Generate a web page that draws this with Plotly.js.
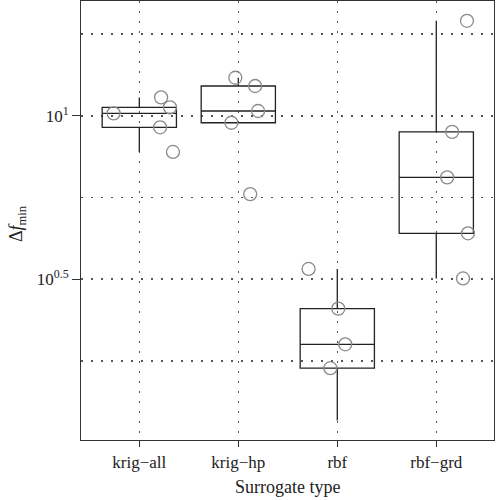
<!DOCTYPE html>
<html>
<head>
<meta charset="utf-8">
<script src="https://cdn.plot.ly/plotly-3.0.1.min.js"></script>
<style>
  html, body { margin: 0; padding: 0; background: #fff; }
  #chart { width: 496px; height: 500px; }
</style>
</head>
<body>
<div id="chart"></div>
<script>
var categories = ['krig\u2212all', 'krig\u2212hp', 'rbf', 'rbf\u2212grd'];

// delta f_min per surrogate type
var krigAll = [10.17, 11.38, 10.61, 9.22, 7.75];
var krigHp = [13.07, 12.33, 10.34, 9.52, 5.76];
var rbf = [3.40, 2.57, 2.00, 1.69, 1.17];
var rbfGrd = [19.52, 8.93, 6.48, 4.37, 3.18];

// horizontal jitter of each circle (null = circle not drawn)
var jitterAll = [-0.26, 0.22, 0.31, 0.21, 0.34];
var jitterHp = [-0.03, 0.17, 0.20, -0.07, 0.12];
var jitterRbf = [-0.29, 0.01, 0.08, -0.07, null];
var jitterGrd = [0.31, 0.16, 0.11, 0.32, 0.27];

var groups = [krigAll, krigHp, rbf, rbfGrd];
var jitters = [jitterAll, jitterHp, jitterRbf, jitterGrd];

// tukey five numbers on log10 values, whiskers at 1.5 IQR (like R boxplot on log axis)
function boxStats(v) {
  var s = v.map(Math.log10).sort(function(a, b) { return a - b; });
  var n = s.length;
  var n4 = Math.floor((n + 3) / 2) / 2;
  var d = [1, n4, (n + 1) / 2, n + 1 - n4, n];
  var f = d.map(function(k) { return 0.5 * (s[Math.floor(k) - 1] + s[Math.ceil(k) - 1]); });
  var iqr = f[3] - f[1];
  var inside = s.filter(function(x) { return x >= f[1] - 1.5 * iqr && x <= f[3] + 1.5 * iqr; });
  return {
    q1: Math.pow(10, f[1]), med: Math.pow(10, f[2]), q3: Math.pow(10, f[3]),
    lo: Math.pow(10, inside[0]), hi: Math.pow(10, inside[inside.length - 1])
  };
}

var st = groups.map(boxStats);

var box = {
  type: 'box',
  x: [0, 1, 2, 3],
  q1: st.map(function(s) { return s.q1; }),
  median: st.map(function(s) { return s.med; }),
  q3: st.map(function(s) { return s.q3; }),
  lowerfence: st.map(function(s) { return s.lo; }),
  upperfence: st.map(function(s) { return s.hi; }),
  width: 0.75,
  whiskerwidth: 0,
  boxpoints: false,
  fillcolor: 'rgba(0,0,0,0)',
  line: {color: '#222', width: 1.3},
  hoverinfo: 'skip',
  showlegend: false
};

var px = [], py = [];
groups.forEach(function(g, i) {
  g.forEach(function(v, j) {
    if (jitters[i][j] === null) return;
    px.push(i + jitters[i][j]);
    py.push(v);
  });
});

var pts = {
  type: 'scatter',
  mode: 'markers',
  x: px,
  y: py,
  yaxis: 'y2',
  marker: {symbol: 'circle-open', size: 13, color: '#8a8a8a', line: {width: 1.3, color: '#8a8a8a'}},
  hoverinfo: 'skip',
  showlegend: false
};

var yr = [0.0083, 1.351];
var gridStyle = {gridcolor: '#555', gridwidth: 1.5, griddash: '1.5px,8.5px'};
var fnt = {family: '"Liberation Serif", "DejaVu Serif", serif', size: 17, color: '#222'};
var titleFnt = {family: fnt.family, size: 18, color: '#222'};
var pow10 = function(l) { return Math.pow(10, l); };

var layout = {
  width: 496,
  height: 500,
  margin: {l: 81, r: 2, t: 1, b: 60},
  paper_bgcolor: '#fff',
  plot_bgcolor: '#fff',
  font: fnt,
  showlegend: false,
  xaxis: Object.assign({
    range: [-0.589, 3.583],
    tickmode: 'array',
    tickvals: [0, 1, 2, 3],
    ticktext: categories,
    ticks: 'outside', ticklen: 6, tickwidth: 1.3, tickcolor: '#333',
    showgrid: true,
    showline: true, linecolor: '#333', linewidth: 1.3, mirror: true,
    zeroline: false,
    tickfont: fnt
  }, gridStyle),
  // grid lines every quarter decade
  yaxis: Object.assign({
    type: 'log',
    range: yr,
    tickmode: 'array',
    tickvals: [0.25, 0.5, 0.75, 1, 1.25].map(pow10),
    showticklabels: false,
    ticks: '',
    showgrid: true,
    showline: true, linecolor: '#333', linewidth: 1.3, mirror: true,
    zeroline: false
  }, gridStyle),
  // labelled ticks
  yaxis2: {
    overlaying: 'y',
    type: 'log',
    range: yr,
    tickmode: 'array',
    tickvals: [0.5, 1].map(pow10),
    ticktext: ['10<sup>0.5</sup>', '10<sup>1</sup>'],
    ticks: 'outside', ticklen: 8, tickwidth: 1.3, tickcolor: '#333',
    showgrid: false,
    showline: false,
    zeroline: false,
    tickfont: fnt
  },
  // short unlabelled ticks
  yaxis3: {
    overlaying: 'y',
    type: 'log',
    range: yr,
    tickmode: 'array',
    tickvals: [1.25, 0.9286, 0.8571, 0.7857, 0.7143, 0.6429, 0.5714, 0.4286, 0.2857].map(pow10),
    showticklabels: false,
    ticks: 'outside', ticklen: 4, tickwidth: 1.3, tickcolor: '#333',
    showgrid: false,
    showline: false,
    zeroline: false
  },
  annotations: [
    {
      text: '\u0394<i>f</i><sub>min</sub>',
      xref: 'paper', yref: 'paper',
      x: -0.155, y: 0.494,
      xanchor: 'center', yanchor: 'middle',
      textangle: -90,
      showarrow: false,
      font: titleFnt
    },
    {
      text: 'Surrogate type',
      xref: 'paper', yref: 'paper',
      x: 0.5, y: -0.107,
      xanchor: 'center', yanchor: 'middle',
      showarrow: false,
      font: titleFnt
    }
  ]
};

Plotly.newPlot('chart', [box, pts], layout, {staticPlot: true});
</script>
</body>
</html>
